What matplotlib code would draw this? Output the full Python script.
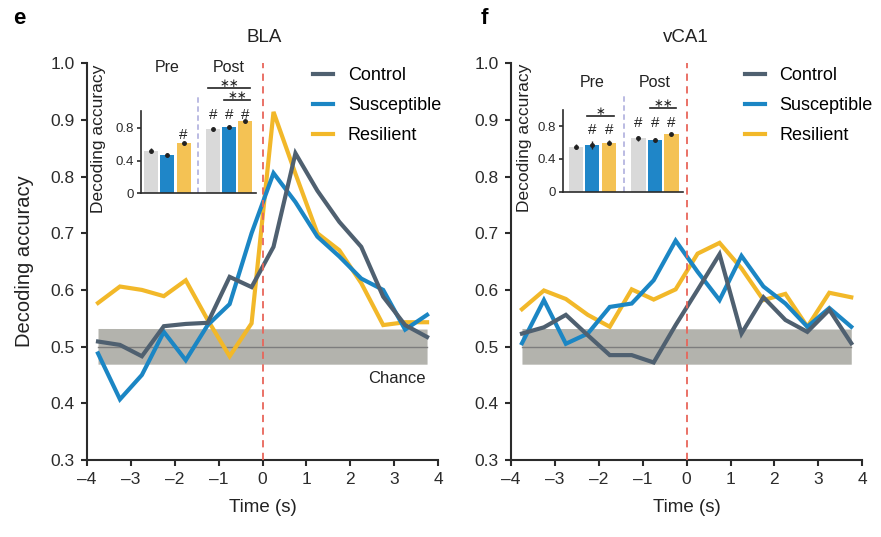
import matplotlib
matplotlib.use("Agg")
import matplotlib.pyplot as plt
import numpy as np

plt.rcParams['font.family'] = ['Liberation Sans', 'DejaVu Sans']

# ===== Data =====
time_s = [-3.75, -3.25, -2.75, -2.25, -1.75, -1.25, -0.75, -0.25,
          0.25, 0.75, 1.25, 1.75, 2.25, 2.75, 3.25, 3.75]

bla_control = [0.509, 0.503, 0.483, 0.536, 0.540, 0.542, 0.623, 0.605,
               0.676, 0.841, 0.775, 0.720, 0.676, 0.588, 0.538, 0.517]
bla_susceptible = [0.488, 0.407, 0.450, 0.526, 0.476, 0.538, 0.575, 0.700,
                   0.806, 0.755, 0.694, 0.659, 0.620, 0.600, 0.530, 0.556]
bla_resilient = [0.577, 0.606, 0.600, 0.589, 0.617, 0.547, 0.483, 0.541,
                 0.914, 0.805, 0.700, 0.670, 0.612, 0.538, 0.543, 0.543]

vca1_control = [0.523, 0.534, 0.556, 0.520, 0.485, 0.485, 0.472, 0.538,
                0.600, 0.663, 0.523, 0.587, 0.547, 0.526, 0.565, 0.506]
vca1_susceptible = [0.506, 0.582, 0.505, 0.523, 0.570, 0.576, 0.617, 0.687,
                    0.632, 0.582, 0.660, 0.606, 0.576, 0.535, 0.568, 0.535]
vca1_resilient = [0.566, 0.599, 0.584, 0.556, 0.535, 0.601, 0.583, 0.601,
                  0.664, 0.683, 0.638, 0.582, 0.593, 0.535, 0.595, 0.587]

chance_low = [0.469, 0.469]
chance_high = [0.532, 0.531]
chance_mean = 0.5

groups = ['Control', 'Susceptible', 'Resilient']
periods = ['Pre', 'Post']

# inset bars: Pre (Control, Susceptible, Resilient), Post (...)
bla_bars = [0.52, 0.467, 0.61, 0.784, 0.81, 0.88]
vca1_bars = [0.549, 0.57, 0.60, 0.65, 0.63, 0.70]
bla_err = [0.03, 0.025, 0.02, 0.03, 0.02, 0.02]
vca1_err = [0.03, 0.05, 0.03, 0.03, 0.02, 0.02]
bla_hash = [False, False, True, True, True, True]
vca1_hash = [False, True, True, True, True, True]

# ===== Style =====
line_colors = ['#4f6070', '#1b86c4', '#f2b829']
bar_colors = ['#d9d9d9', '#1f86c8', '#f4c254']
axis_color = '#2b2b2b'

fig = plt.figure(figsize=(8.81, 5.37), dpi=100)


def main_panel(rect, series, low, high, title, letter, letter_x, title_x,
               legend_x, show_chance):
    ax = fig.add_axes(rect)
    ax.fill_between([time_s[0], time_s[-1]], low, high, color='#b3b3ad',
                    zorder=1, lw=0)
    ax.plot([time_s[0], time_s[-1]], [chance_mean, chance_mean],
            color='#7d7d7d', lw=1, zorder=2)
    for vals, c, g in zip(series[::-1], line_colors[::-1], groups[::-1]):
        ax.plot(time_s, vals, color=c, lw=3, zorder=3, label=g,
                solid_joinstyle='miter')
    ax.axvline(0, color='#e8665a', lw=1.3, ls=(0, (4, 3)), zorder=4)
    ax.set_xlim(-4, 4)
    ax.set_ylim(0.3, 1.0)
    ax.set_xticks(range(-4, 5))
    ax.set_xticklabels([str(v).replace('-', '\u2013') for v in range(-4, 5)])
    ax.set_yticks(np.arange(0.3, 1.01, 0.1))
    ax.set_yticklabels([f'{v:.1f}' for v in np.arange(0.3, 1.01, 0.1)])
    for s in ['top', 'right']:
        ax.spines[s].set_visible(False)
    for s in ['left', 'bottom']:
        ax.spines[s].set_linewidth(1.5)
        ax.spines[s].set_color(axis_color)
    ax.tick_params(width=1.5, length=4, labelsize=12.5, colors=axis_color,
                   pad=5)
    ax.set_xlabel('Time (s)', fontsize=13.5, labelpad=8, color='#222222')
    if show_chance:
        ax.text(3.72, 0.444, 'Chance', fontsize=12, ha='right', va='center',
                color='#222222')
    handles, labels = ax.get_legend_handles_labels()
    ax.legend(handles[::-1], labels[::-1], loc='upper left', frameon=False,
              bbox_to_anchor=(legend_x, 0.99), borderpad=0, borderaxespad=0,
              fontsize=13, handlelength=1.1, handletextpad=0.8,
              labelspacing=0.72)
    fig.text(title_x, 0.931, title, fontsize=13.5, ha='center', va='center',
             color='#222222')
    fig.text(letter_x, 0.966, letter, fontsize=16, fontweight='bold',
             ha='left', va='center')
    return ax


def inset_panel(rect, vals, errs, hashes, hash_y, sig, label_y, xlim,
                ylabel_x):
    ax = fig.add_axes(rect)
    ax.set_facecolor('none')
    pos = [0, 1, 2, 3.8, 4.8, 5.8]
    ax.bar(pos, vals, width=0.86, color=bar_colors * 2, zorder=1)
    ax.errorbar(pos, vals, yerr=errs, fmt='o', ms=2.5, color='#222222',
                elinewidth=1, capsize=0, zorder=3)
    for p, h, hy in zip(pos, hashes, hash_y):
        if h:
            ax.text(p, hy, '#', fontsize=11, ha='center', va='center',
                    color='#222222', clip_on=False)
    for x0, x1, y, stars in sig:
        ax.plot([x0 - 0.3, x1 + 0.3], [y, y], color='#222222', lw=1.2,
                clip_on=False)
        ax.text((x0 + x1) / 2, y + 0.055, stars, fontsize=8.5, ha='center',
                va='center', color='#222222', family='DejaVu Sans')
    ax.plot([2.9, 2.9], [0, 1.18], color='#b5b5e0', lw=1.3,
            ls=(0, (3, 2)), clip_on=False)
    ax.text(1, label_y, periods[0], fontsize=11.5, ha='center', va='center',
            color='#222222')
    ax.text(4.8, label_y, periods[1], fontsize=11.5, ha='center',
            va='center', color='#222222')
    ax.set_xlim(xlim)
    ax.set_ylim(0, 1.0)
    ax.set_xticks([])
    ax.set_yticks([0, 0.4, 0.8])
    ax.set_yticklabels(['0', '0.4', '0.8'])
    for s in ['top', 'right']:
        ax.spines[s].set_visible(False)
    for s in ['left', 'bottom']:
        ax.spines[s].set_linewidth(1.2)
        ax.spines[s].set_color(axis_color)
    ax.tick_params(width=1.2, length=3, labelsize=9.5, colors=axis_color,
                   pad=2)
    ax.set_ylabel('Decoding accuracy', fontsize=12.5, color='#222222')
    ax.yaxis.set_label_coords(ylabel_x, 0.66)
    return ax


ax1 = main_panel([0.0988, 0.1434, 0.3984, 0.739],
                 [bla_control, bla_susceptible, bla_resilient],
                 chance_low, chance_high, 'BLA', 'e', 0.015, 0.30, 0.645,
                 True)
ax1.set_ylabel('Decoding accuracy', fontsize=14.5, labelpad=12,
               color='#222222')

ax2 = main_panel([0.58, 0.1434, 0.3987, 0.739],
                 [vca1_control, vca1_susceptible, vca1_resilient],
                 chance_low, chance_high, 'vCA1', 'f', 0.545, 0.778, 0.667,
                 False)

inset_panel([0.160, 0.640, 0.1305, 0.1527], bla_bars, bla_err, bla_hash,
            [0.71, 0.71, 0.71, 0.95, 0.95, 0.95],
            [(3.8, 5.8, 1.29, '\u2217\u2217'), (4.8, 5.8, 1.14, '\u2217\u2217')],
            1.54, (-0.62, 6.45), -0.30)

inset_panel([0.6387, 0.643, 0.1365, 0.1527], vca1_bars, vca1_err,
            vca1_hash, [0.75, 0.75, 0.75, 0.84, 0.84, 0.84],
            [(1, 2, 0.92, '\u2217'), (4.8, 5.8, 1.02, '\u2217\u2217')],
            1.33, (-0.8, 6.5), -0.255)

plt.savefig('out.png', dpi=100)
plt.close()
